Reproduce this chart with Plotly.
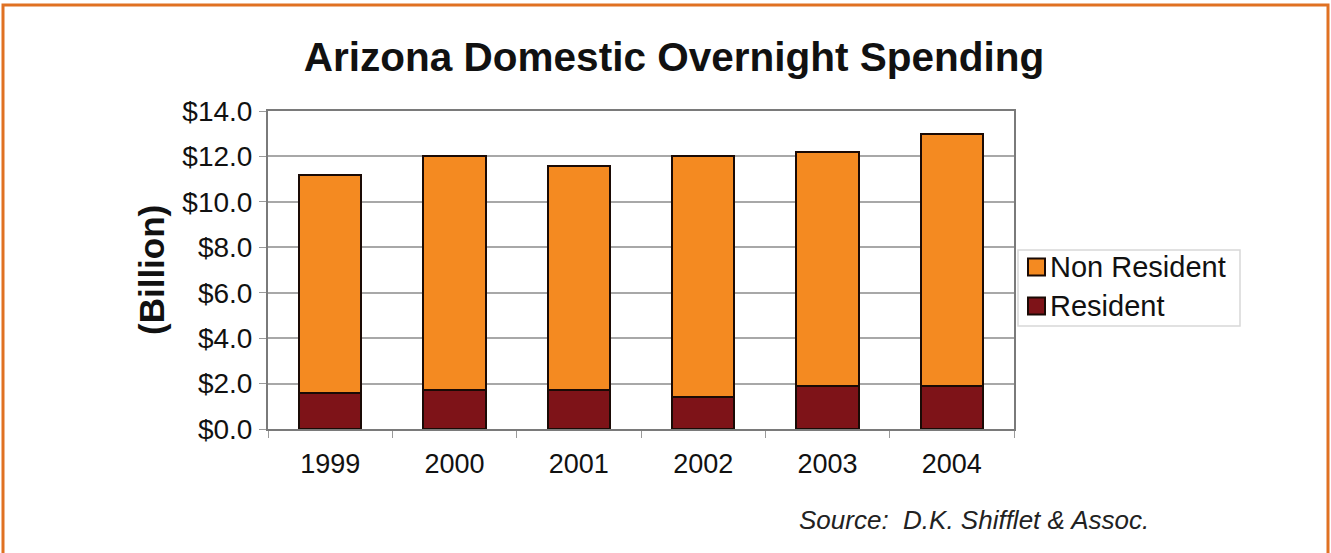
import plotly.graph_objects as go

# Spending data, billions of dollars
years = ["1999", "2000", "2001", "2002", "2003", "2004"]
resident = [1.6, 1.7, 1.7, 1.4, 1.9, 1.9]
non_resident = [9.6, 10.3, 9.9, 10.6, 10.3, 11.1]
y_ticks = [0, 2, 4, 6, 8, 10, 12, 14]
y_tick_labels = ["$%.1f" % v for v in y_ticks]

series = [
    ("Non Resident", non_resident, "#F48A21"),
    ("Resident", resident, "#7E1318"),
]
EDGE = "#1a0a05"

W, H = 1331, 553
L, R, T, B = 268, 1014, 111, 429  # plot area in pixels

def px_x(x):
    return (x - L) / (R - L)

def px_y(y):
    return (B - y) / (B - T)

FONT = "Liberation Sans, Arial, sans-serif"

fig = go.Figure()
# stack from the bottom: resident first
for name, vals, color in reversed(series):
    fig.add_trace(go.Bar(
        x=years, y=vals, name=name,
        marker=dict(color=color, line=dict(color=EDGE, width=2)),
    ))

fig.update_layout(
    width=W, height=H,
    margin=dict(l=L, r=W - R, t=T, b=H - B),
    paper_bgcolor="white", plot_bgcolor="white",
    barmode="stack", bargap=0.5,
    font=dict(family=FONT, color="#111"),
    title=dict(
        text="<b>Arizona Domestic Overnight Spending</b>",
        font=dict(size=40.5, family=FONT, color="#111"),
        x=674 / W, xanchor="center", xref="container",
        y=1 - 57 / H, yanchor="middle", yref="container",
    ),
    showlegend=False,
)

fig.update_xaxes(
    type="category",
    showline=True, linecolor="#7a7a7a", linewidth=2, mirror=True,
    ticks="outside", tickson="boundaries", ticklen=7, tickcolor="#9a9a9a",
    ticklabelstandoff=10,
    tickfont=dict(size=27, family=FONT, color="#111"),
    showgrid=False,
)
fig.update_yaxes(
    range=[0, 14],
    tickvals=y_ticks, ticktext=y_tick_labels,
    showline=True, linecolor="#7a7a7a", linewidth=2, mirror=True,
    ticks="outside", ticklen=7, tickcolor="#9a9a9a",
    ticklabelstandoff=1,
    tickfont=dict(size=28, family=FONT, color="#111"),
    showgrid=True, gridcolor="#a8a8a8", gridwidth=1.5,
    zeroline=False,
)

# Legend box with swatches
fig.add_shape(
    type="rect", xref="paper", yref="paper",
    x0=px_x(1018), x1=px_x(1240), y0=px_y(326), y1=px_y(250),
    line=dict(color="#d8d8d8", width=1.5), fillcolor="white",
)
for i, (name, vals, color) in enumerate(series):
    cy = 267 + 39 * i
    fig.add_shape(
        type="rect", xref="paper", yref="paper",
        x0=px_x(1028), x1=px_x(1045), y0=px_y(cy + 8.5), y1=px_y(cy - 8.5),
        line=dict(color=EDGE, width=2), fillcolor=color,
    )
    fig.add_annotation(
        text=name, x=px_x(1048), y=px_y(cy), xref="paper", yref="paper",
        xanchor="left", yanchor="middle", showarrow=False,
        font=dict(size=29, family=FONT, color="#111"),
    )

# Y axis title
fig.add_annotation(
    text="<b>(Billion)</b>", textangle=-90,
    x=px_x(151), y=px_y(270), xref="paper", yref="paper",
    xanchor="center", yanchor="middle", showarrow=False,
    font=dict(size=35, family=FONT, color="#111"),
)

# Source note
fig.add_annotation(
    text="<i>Source:  D.K. Shifflet &amp; Assoc.</i>",
    x=px_x(797), y=px_y(520), xref="paper", yref="paper",
    xanchor="left", yanchor="middle", showarrow=False,
    font=dict(size=26, family=FONT, color="#222"),
)

# Orange frame around the whole graphic
fig.add_shape(
    type="rect", xref="paper", yref="paper",
    x0=px_x(3), x1=px_x(1328), y0=px_y(5), y1=px_y(560),
    line=dict(color="#E07122", width=3), layer="above",
)

fig.write_html("out.html")
